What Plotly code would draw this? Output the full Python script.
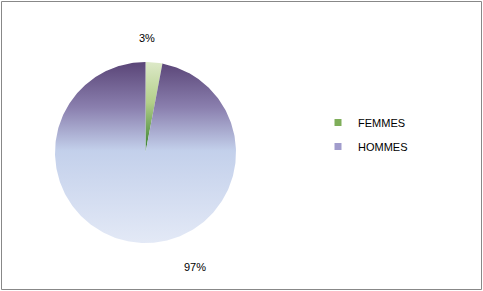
import numpy as np
import plotly.graph_objects as go

# ---- data ----
categories = ["FEMMES", "HOMMES"]
values = [3, 97]
label_texts = [f"{round(v / sum(values) * 100)}%" for v in values]

# ---- styling / layout constants ----
W, H = 483, 291
CX, CY, R = 145.5, 152.5, 90.5
FONT = "Liberation Sans, Arial, sans-serif"
gradients = {
    "FEMMES": [[0, "#dde9c8"], [0.45, "#b3cf8a"], [1, "#2f7a2a"]],
    "HOMMES": [[0, "#5a4577"], [0.25, "#8a7fae"], [0.49, "#c3d0eb"], [1, "#e3e9f6"]],
}
legend_colors = {"FEMMES": "#7fae5a", "HOMMES": "#a19ccc"}
# label anchor positions (Excel "best fit" placement)
label_pos = [(147, 38), (195, 267)]

fig = go.Figure()

total = float(sum(values))
start = 0.0
for cat, v in zip(categories, values):
    a0 = start / total * 2 * np.pi
    a1 = (start + v) / total * 2 * np.pi
    t = np.linspace(a0, a1, max(int(abs(a1 - a0) * 60), 4))
    xs = np.concatenate([[CX], CX + R * np.sin(t), [CX]])
    ys = np.concatenate([[CY], CY - R * np.cos(t), [CY]])
    fig.add_trace(go.Scatter(
        x=xs, y=ys, mode="lines", fill="toself",
        line=dict(width=0, color="rgba(0,0,0,0)"),
        fillgradient=dict(type="vertical", colorscale=gradients[cat],
                          start=float(ys.min()), stop=float(ys.max())),
        showlegend=False, hoverinfo="skip",
    ))
    start += v

# legend entries
for i, cat in enumerate(categories):
    fig.add_trace(go.Scatter(
        x=[None], y=[None], mode="markers", name=cat,
        legendgroup=cat,
        marker=dict(symbol="square", size=7, color=legend_colors[cat]),
    ))

for txt, (lx, ly) in zip(label_texts, label_pos):
    fig.add_annotation(x=lx, y=ly, text=txt, showarrow=False,
                       font=dict(family=FONT, size=11, color="#000000"),
                       xanchor="center", yanchor="middle")

fig.add_shape(type="rect", x0=1.5, y0=1.5, x1=481.5, y1=289.5,
              line=dict(color="#888888", width=1), layer="above")

fig.update_layout(
    width=W, height=H,
    margin=dict(l=0, r=0, t=0, b=0),
    paper_bgcolor="white", plot_bgcolor="white",
    xaxis=dict(range=[0, W], visible=False, fixedrange=True),
    yaxis=dict(range=[H, 0], visible=False, fixedrange=True),
    showlegend=True,
    legend=dict(x=318 / W, y=1 - 108 / H, xanchor="left", yanchor="top",
                font=dict(family=FONT, size=11, color="#000000"),
                tracegroupgap=5, bgcolor="rgba(0,0,0,0)",
                itemclick=False, itemdoubleclick=False),
    font=dict(family=FONT),
)

fig.write_html("out.html", config={"displayModeBar": False})
